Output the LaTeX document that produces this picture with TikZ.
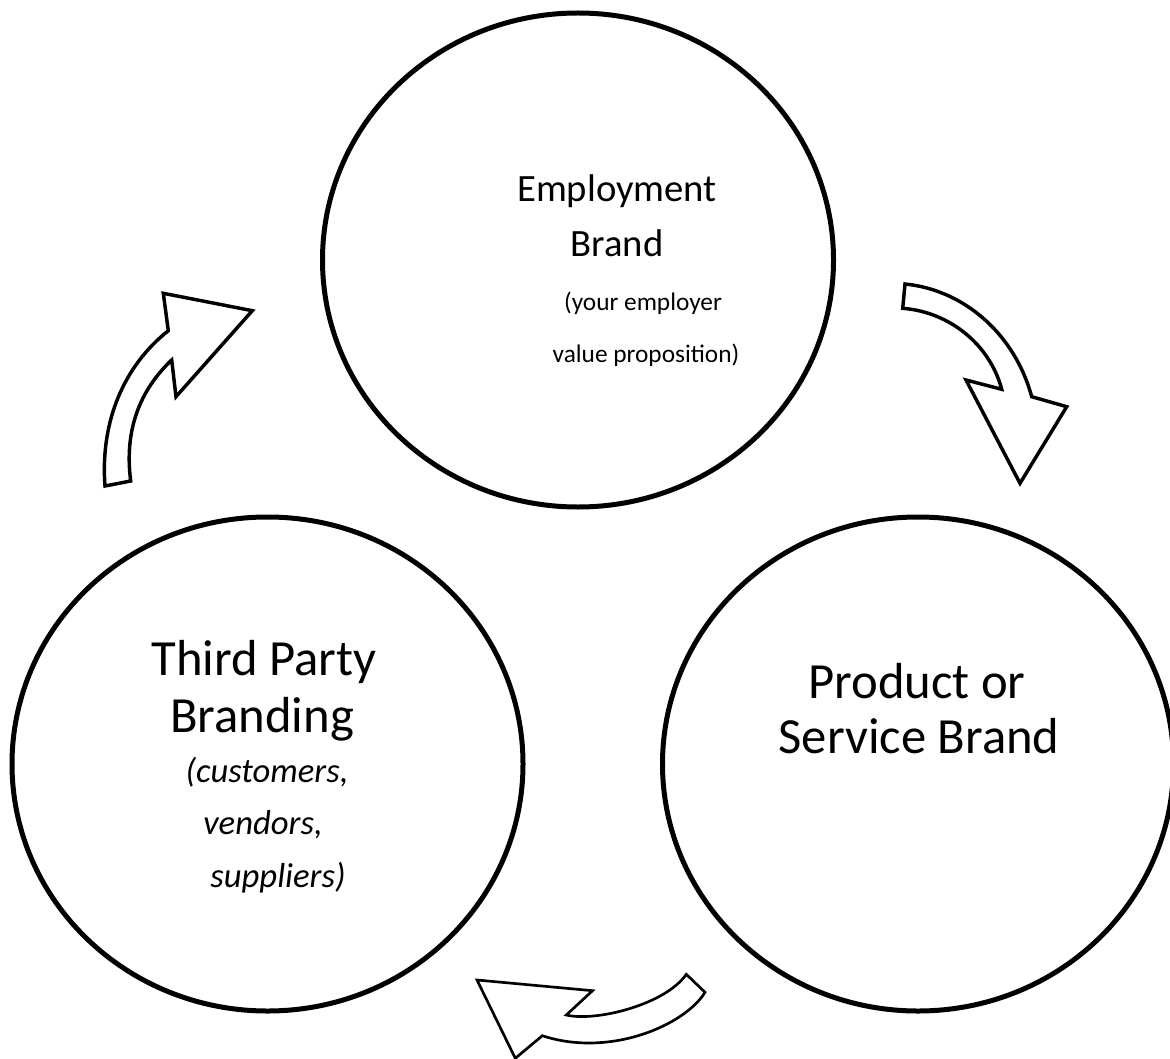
\documentclass[tikz,border=0pt]{standalone}
\usepackage{fontspec}
\setmainfont{Carlito}
\usetikzlibrary{shapes.geometric}
\begin{document}
\begin{tikzpicture}[x=0.75pt,y=-0.75pt,
  brandcircle/.style={draw=black,line width=3.75pt,ellipse,minimum width=383.25pt,minimum height=370.5pt,inner sep=0pt},
  linetxt/.style={anchor=base,inner sep=0pt},
  topbig/.style={linetxt,font=\fontsize{29}{35}\selectfont},
  topsmall/.style={linetxt,font=\fontsize{19}{23}\selectfont},
  sidebig/.style={linetxt,font=\fontsize{38}{45}\selectfont},
  sidesmall/.style={linetxt,font=\fontsize{26}{31}\selectfont\itshape},
  blockarrow/.style={draw=black,fill=white,line width=2.6pt,line join=miter}]
\useasboundingbox (0,0) rectangle (1170,1059);
\node[brandcircle] (top) at (578,260) {};
\node[brandcircle] (left) at (267.5,764) {};
\node[brandcircle] (right) at (918,764) {};
% top text
\node[topbig] (t1) at (617,202) {Employment};
\node[topbig] (t2) at (617,257) {Brand};
\node[topsmall] (t3) at (643,310) {(your employer};
\node[topsmall] (t4) at (646,362) {value proposition)};
% left text
\node[sidebig] (l1) at (264,675) {Third Party};
\node[sidebig] (l2) at (262,732) {Branding};
\node[sidesmall] (l3) at (267,782) {(customers,};
\node[sidesmall] (l4) at (263,834) {vendors,};
\node[sidesmall] (l5) at (278,887) {suppliers)};
% right text
\node[sidebig] (r1) at (917,698) {Product or};
\node[sidebig] (r2) at (919,753) {Service Brand};
% curved block arrows
\draw[blockarrow] (105,486) .. controls (100,420) and (125,365) .. (168.3,330.7) -- (163.3,293.3) -- (252.3,310.7) -- (176,396.7) -- (171.7,360) .. controls (140,390) and (124,430) .. (130.7,481) -- cycle;
\draw[blockarrow] (905,284) .. controls (965,290) and (1015,335) .. (1031.7,396.7) -- (1066.7,406.7) -- (1020,483.3) -- (966,380) -- (1001.7,389.3) .. controls (990,345) and (950,312) .. (902.7,308.3) -- cycle;
\draw[blockarrow,line width=2pt] (686.3,974.3) -- (705,992.3) .. controls (685,1025) and (610,1058) .. (542.3,1035.7) -- (515.3,1058.3) -- (477,980) -- (592.5,990.7) -- (566.3,1015) .. controls (595,1022) and (665,1005) .. (686.3,974.3) -- cycle;
\end{tikzpicture}
\end{document}
